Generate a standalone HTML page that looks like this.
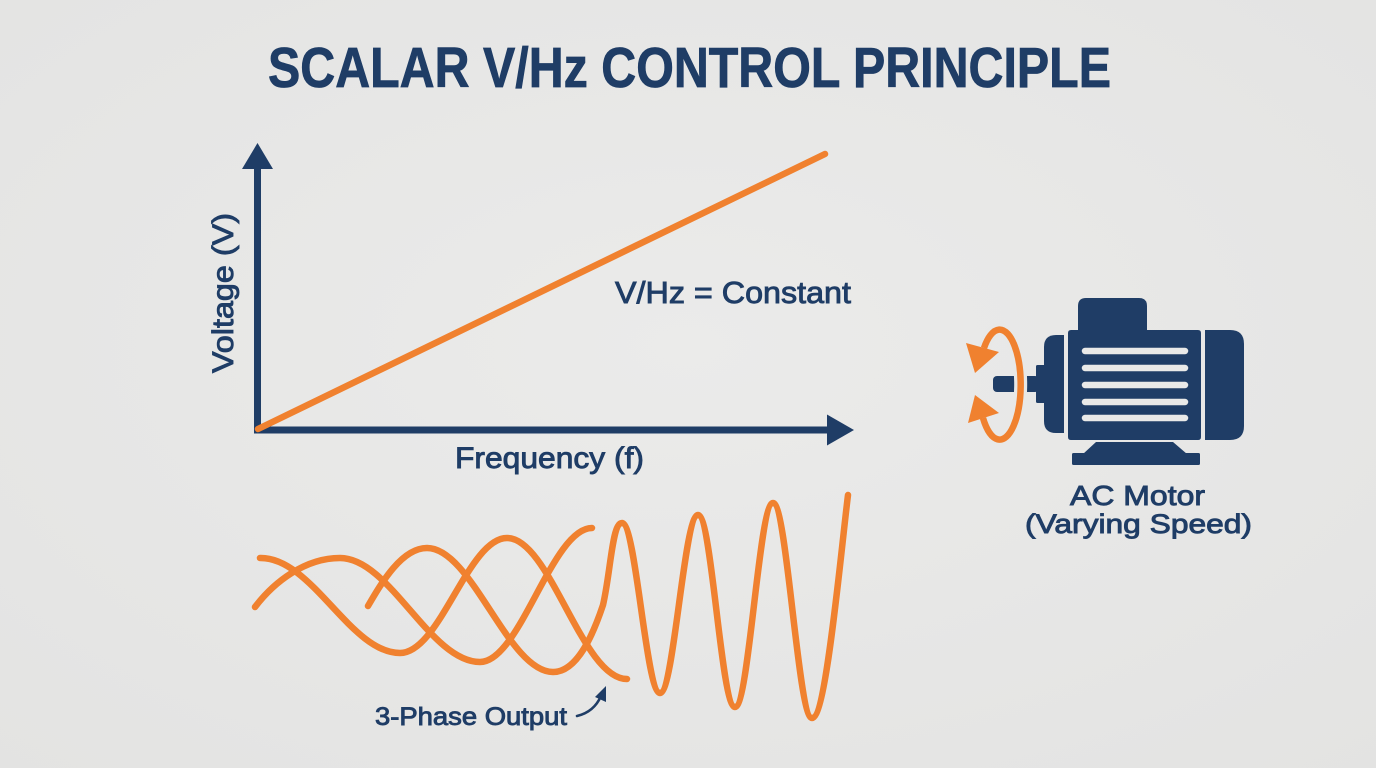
<!DOCTYPE html>
<html><head><meta charset="utf-8"><style>
html,body{margin:0;padding:0;background:#e8e8e7;}
svg{display:block;}
</style></head><body>
<svg width="1376" height="768" viewBox="0 0 1376 768" xmlns="http://www.w3.org/2000/svg">
<defs>
<radialGradient id="bg" cx="50%" cy="45%" r="75%">
<stop offset="0" stop-color="#ebebea"/><stop offset="1" stop-color="#e3e3e2"/>
</radialGradient>
</defs>
<rect width="1376" height="768" fill="url(#bg)"/>

<!-- Title -->
<text x="268" y="87" font-family="'Liberation Sans', sans-serif" font-weight="bold" font-size="57" fill="#1f3d66" stroke="#1f3d66" stroke-width="0.8" textLength="843" lengthAdjust="spacingAndGlyphs">SCALAR V/Hz CONTROL PRINCIPLE</text>

<!-- Axes -->
<g fill="#1f3d66" stroke="none">
<rect x="254" y="165" width="7" height="268"/>
<rect x="254" y="426.5" width="576" height="7"/>
<polygon points="257.5,143 242,169 273,169"/>
<polygon points="854,430 827,414.5 827,445.5"/>
</g>

<!-- V/Hz line -->
<line x1="258" y1="429" x2="825" y2="154" stroke="#f0812f" stroke-width="6.5" stroke-linecap="round"/>

<!-- Axis labels -->
<g font-family="'Liberation Sans', sans-serif" fill="#1f3d66" stroke="#1f3d66" stroke-width="0.9">
<text x="0" y="0" font-size="30" transform="translate(233,373) rotate(-90)" textLength="160" lengthAdjust="spacingAndGlyphs">Voltage (V)</text>
<text x="455" y="468" font-size="30" textLength="189" lengthAdjust="spacingAndGlyphs">Frequency (f)</text>
<text x="615" y="303" font-size="31" textLength="236" lengthAdjust="spacingAndGlyphs">V/Hz = Constant</text>
<text x="1070" y="505" font-size="28" textLength="135" lengthAdjust="spacingAndGlyphs">AC Motor</text>
<text x="1025" y="533" font-size="27" textLength="227" lengthAdjust="spacingAndGlyphs">(Varying Speed)</text>
<text x="375" y="725" font-size="25" textLength="192" lengthAdjust="spacingAndGlyphs">3-Phase Output</text>
</g>

<!-- Waves -->
<g fill="none" stroke="#f0812f" stroke-width="6.5" stroke-linecap="round" stroke-linejoin="round">
<path d="M260,558 C312,557 350,653 400,653 C440,653 468,538 507,538 C550,538 582,679 627,679"/>
<path d="M255,607 C274,582 305,558 340,558 C390,558 430,662 480,662 C520,662 552,528 592,528"/>
<path d="M368,606 C382,582 402,548 427,548 C472,548 508,672 553,672 C578,672 594,632 603,605 C611,570 612,523 622,523 C636,523 646,693 660,693 C674,693 684,515 698,515 C712,515 721,707 735,707 C749,707 759,503 773,503 C787,503 798,718 812,718 C826,718 840,560 848,495"/>
</g>

<!-- 3-phase pointer arrow -->
<path d="M577,716 Q594,712 601,696" fill="none" stroke="#1f3d66" stroke-width="2.6" stroke-linecap="round"/>
<polygon points="606,686 595,697 606,702" fill="#1f3d66"/>

<!-- Motor -->
<g fill="#1f3d66">
<rect x="993" y="376" width="46" height="16" rx="4"/>
<rect x="1036" y="365" width="11" height="38" rx="1.5"/>
<path d="M1064,335 L1056,335 Q1044,335 1044,347 L1044,421 Q1044,433 1056,433 L1064,433 Z"/>
<path d="M1078,332 L1078,306 Q1078,298 1086,298 L1139,298 Q1147,298 1147,306 L1147,330 L1198,330 Q1201,330 1201,333 L1201,437 Q1201,440 1198,440 L1071,440 Q1068,440 1068,437 L1068,333 Q1068,330 1071,330 L1078,330 Z"/>
<path d="M1205,330 L1230,330 Q1244,330 1244,344 L1244,426 Q1244,440 1230,440 L1205,440 Z"/>
<polygon points="1096,442 1173,442 1187,454 1083,454"/>
<rect x="1072" y="453" width="128" height="12" rx="1.5"/>
</g>
<g stroke="#e9e9e8" stroke-width="6.5" stroke-linecap="round">
<line x1="1085" y1="351" x2="1185" y2="351"/>
<line x1="1085" y1="368" x2="1185" y2="368"/>
<line x1="1085" y1="385" x2="1185" y2="385"/>
<line x1="1085" y1="402" x2="1185" y2="402"/>
<line x1="1085" y1="418" x2="1185" y2="418"/>
</g>

<!-- rotation ring -->
<path d="M984,348 A21,55 0 1,1 983,418" fill="none" stroke="#e8e8e7" stroke-width="13"/>
<path d="M984,348 A21,55 0 1,1 983,418" fill="none" stroke="#f0812f" stroke-width="6.5"/>
<polygon points="966,343 999,352 975,373" fill="#f0812f"/>
<polygon points="975,395 999,413 968,423" fill="#f0812f"/>
</svg>
</body></html>
